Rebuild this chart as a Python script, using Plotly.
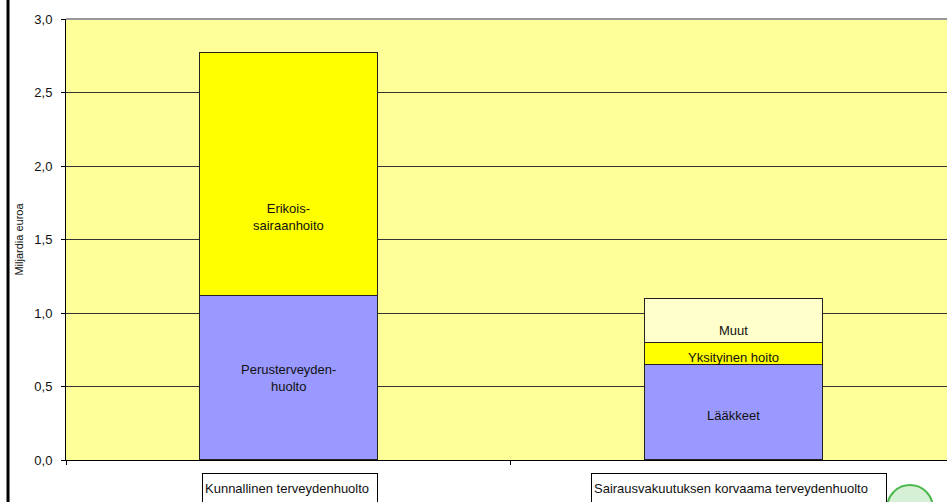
import plotly.graph_objects as go

categories = ["Kunnallinen terveydenhuolto", "Sairausvakuutuksen korvaama terveydenhuolto"]
# segments (bottom to top)
seg_names = ["Perusterveydenhuolto", "Erikoissairaanhoito", "Lääkkeet", "Yksityinen hoito", "Muut"]
perus = [1.12, None]
erikois = [1.65, None]
laakkeet = [None, 0.65]
yksityinen = [None, 0.15]
muut = [None, 0.30]

BLUE = "#9999FF"
YELLOW = "#FFFF00"
PALE = "#FFFFCC"
FONT = "Liberation Sans, Arial"

fig = go.Figure()
series = [
    (perus, BLUE, "Perusterveyden-<br>huolto", 0),
    (erikois, YELLOW, "Erikois-<br>sairaanhoito", -43),
    (laakkeet, BLUE, "Lääkkeet", -3),
    (yksityinen, YELLOW, "Yksityinen hoito", -4),
    (muut, PALE, "Muut", -10),
]
for (vals, col, lab, shift), nm in zip(series, seg_names):
    fig.add_trace(go.Bar(
        x=categories, y=[v if v is not None else 0 for v in vals], name=nm,
        marker=dict(color=col, line=dict(color="#222222", width=1.2)),
        width=0.4, showlegend=False, hoverinfo="skip",
    ))

# labels at segment centres
bases = [0.0, 0.0]
for (vals, col, lab, shift) in series:
    for i, v in enumerate(vals):
        if v is None:
            continue
        fig.add_annotation(x=categories[i], y=bases[i] + v / 2, text=lab, showarrow=False,
                           yshift=shift, font=dict(family=FONT, size=13, color="#111111"))
        bases[i] += v

fig.update_layout(
    barmode="stack",
    width=947, height=502,
    margin=dict(l=66, r=0, t=19, b=42),
    plot_bgcolor="#FFFF99",
    paper_bgcolor="white",
    separators=", ",
    font=dict(family=FONT, size=13, color="#111111"),
    xaxis=dict(range=[-0.5, 1.4798], showticklabels=False, ticks="outside", tickson="boundaries",
               ticklen=4, tickcolor="black", showgrid=False, showline=True, linecolor="black", linewidth=1),
    yaxis=dict(range=[0, 3], dtick=0.5, tickformat=".1f", ticks="outside", ticklen=4, tickcolor="black",
               showgrid=True, gridcolor="#333333", gridwidth=1, showline=True, linecolor="black",
               linewidth=1, zeroline=False, tickfont=dict(size=13), ticklabelstandoff=6,
               title=dict(text="Miljardia euroa", font=dict(size=11), standoff=8)),
)

# category label boxes
fig.add_annotation(x=categories[0], xref="x", y=0, yref="paper", yanchor="top", yshift=-13, xshift=1,
                   text=categories[0], showarrow=False, align="left", width=170, height=24,
                   bordercolor="black", borderwidth=1, borderpad=2, bgcolor="white",
                   font=dict(size=13, color="#111111"))
fig.add_annotation(x=categories[1], xref="x", y=0, yref="paper", yanchor="top", yshift=-13, xshift=6,
                   text=categories[1], showarrow=False, align="left", width=290, height=24,
                   bordercolor="black", borderwidth=1, borderpad=2, bgcolor="white",
                   font=dict(size=13, color="#111111"))

# top border of plot area
fig.add_shape(type="line", xref="paper", yref="paper", x0=0, x1=1, y0=1, y1=1,
              line=dict(color="#999999", width=2))
# left black frame line
fig.add_shape(type="line", xref="paper", yref="paper", x0=-0.0658, x1=-0.0658, y0=-0.2, y1=1.1,
              line=dict(color="black", width=3))
# decorative green logo (partial, bottom right)
fig.add_shape(type="circle", xref="paper", yref="paper", x0=0.932, x1=0.984, y0=-0.161, y1=-0.0567,
              line=dict(color="#4db84d", width=2), fillcolor="#d6f0d6", layer="above")

fig.write_html("out.html", config={"displayModeBar": False},
               post_script="document.body.style.margin='0';document.body.style.overflow='hidden';")
